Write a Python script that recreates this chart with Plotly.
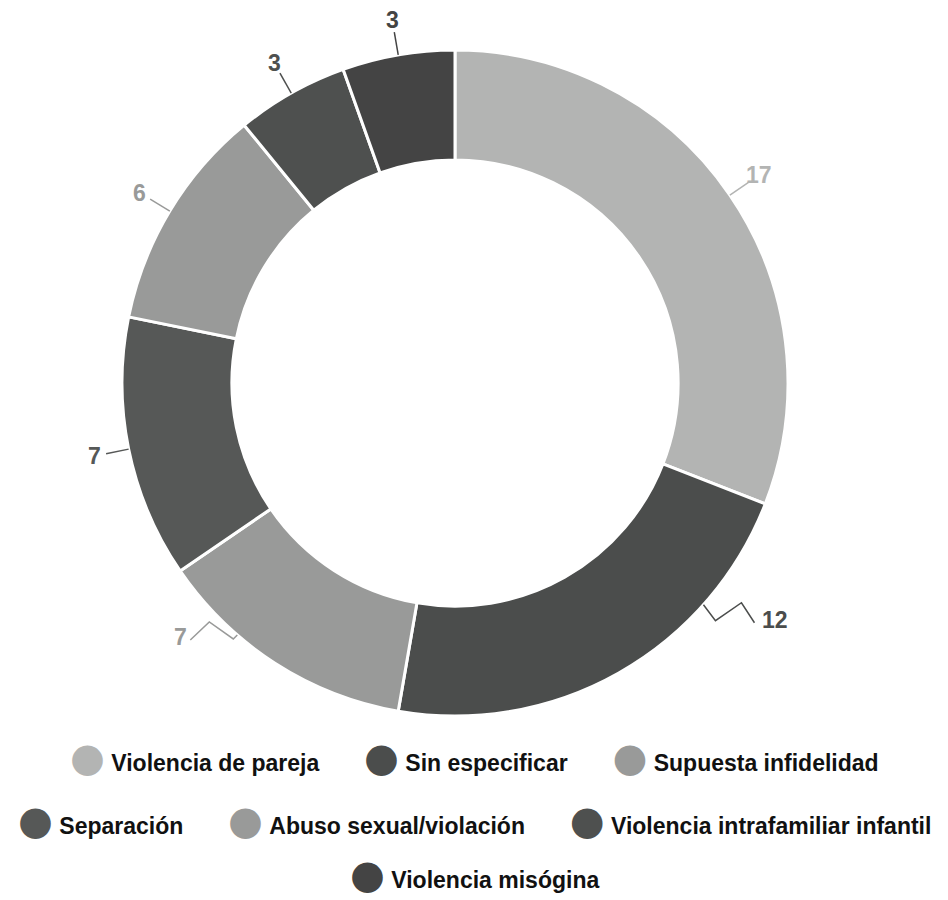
import math
import plotly.graph_objects as go

# ---- data ----
categories = ["Violencia de pareja", "Sin especificar", "Supuesta infidelidad",
              "Separación", "Abuso sexual/violación",
              "Violencia intrafamiliar infantil", "Violencia misógina"]
values = [17, 12, 7, 7, 6, 3, 3]
colors = ["#b3b4b3", "#4b4d4c", "#999a99", "#565857", "#999a99", "#4e504f", "#444444"]

legend_rows = [[0, 1, 2], [3, 4, 5], [6]]

# ---- layout / style ----
OFF = 8                      # page body margin
W, H = 948 - 2 * OFF, 900 - OFF
CX, CY, R = 455 - OFF, 383 - OFF, 333
HOLE = 0.67
FONT = "Liberation Sans, Arial, sans-serif"
LABEL_SIZE = 23

edge_shift = {1: -18.8, 2: 8.1}
zigzag = {1: [(12, 16), (38, -2), (51, 18)], 2: [(-4, 4), (-28, -13), (-47, 5)]}


def px_to_paper(x, y):
    return x / W, 1 - y / H


fig = go.Figure()
fig.add_trace(go.Pie(
    labels=categories, values=values, sort=False, direction="clockwise", rotation=0,
    hole=HOLE, marker=dict(colors=colors, line=dict(color="white", width=3)),
    textinfo="none", showlegend=False, hoverinfo="label+value",
    domain=dict(x=[0, (2 * CX) / W], y=[1 - (CY + R) / H, 1 - (CY - R) / H]),
))

total = sum(values)
cum = 0
shapes, annotations = [], []
for i, v in enumerate(values):
    mid = (cum + v / 2) / total * 360
    cum += v
    ang = mid + edge_shift.get(i, 0)
    a = math.radians(ang)
    sx, sy = CX + R * math.sin(a), CY - R * math.cos(a)
    if i in zigzag:
        pts = [(sx, sy)] + [(sx + dx, sy + dy) for dx, dy in zigzag[i]]
        path = "M " + " L ".join(f"{px_to_paper(x, y)[0]:.5f},{px_to_paper(x, y)[1]:.5f}" for x, y in pts)
        shapes.append(dict(type="path", xref="paper", yref="paper", path=path,
                           line=dict(color=colors[i], width=1.5)))
        lx, ly = pts[-1]
        right = lx > CX
        ax, ay = px_to_paper(lx + (6 if right else -1), ly - 3)
        annotations.append(dict(x=ax, y=ay, xref="paper", yref="paper", showarrow=False,
                                text=f"<b>{v}</b>", xanchor="left" if right else "right",
                                yanchor="middle",
                                font=dict(family=FONT, size=LABEL_SIZE, color=colors[i])))
    else:
        ex, ey = CX + (R + 23) * math.sin(a), CY - (R + 23) * math.cos(a)
        x0, y0 = px_to_paper(sx, sy)
        x1, y1 = px_to_paper(ex, ey)
        shapes.append(dict(type="line", xref="paper", yref="paper", x0=x0, y0=y0, x1=x1, y1=y1,
                           line=dict(color=colors[i], width=1.5)))
        tx, ty = CX + (R + 35) * math.sin(a), CY - (R + 35) * math.cos(a)
        ax, ay = px_to_paper(tx, ty)
        annotations.append(dict(x=ax, y=ay, xref="paper", yref="paper", showarrow=False,
                                text=f"<b>{v}</b>", xanchor="center", yanchor="middle",
                                borderpad=0,
                                font=dict(family=FONT, size=LABEL_SIZE, color=colors[i])))

# legend rows (centered)
row_y = [757 - OFF, 820 - OFF, 874 - OFF]
NB = "\u00a0"
for r, row in enumerate(legend_rows):
    parts = []
    for i in row:
        parts.append(f'<span style="fill:{colors[i]};font-family:DejaVu Sans;font-size:40px">●</span>'
                     f"{NB}<b>{categories[i]}</b>")
    text = (NB * 7).join(parts)
    annotations.append(dict(x=0.5, y=1 - row_y[r] / H, xref="paper", yref="paper",
                            showarrow=False, text=text, xanchor="center", yanchor="middle",
                            font=dict(family=FONT, size=23, color="#111111")))

fig.update_layout(
    width=W, height=H, margin=dict(l=0, r=0, t=0, b=0),
    paper_bgcolor="white", plot_bgcolor="white",
    shapes=shapes, annotations=annotations, showlegend=False,
)
fig.write_html("out.html")
